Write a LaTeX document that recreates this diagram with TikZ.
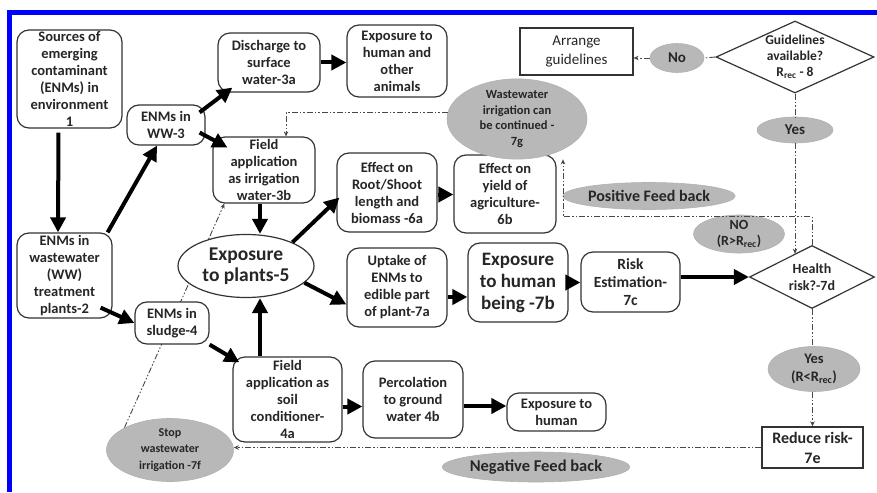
\documentclass[tikz,border=0pt]{standalone}
\usepackage{fontspec}
\setmainfont{Carlito}
\usetikzlibrary{arrows.meta,shapes.geometric,calc,backgrounds}

\tikzset{
  box/.style={draw=black!80, line width=1.2pt, rounded corners=12pt, fill=white,
    align=center, inner sep=0pt, text=black!85,
    font=\bfseries\fontsize{14.5}{17}\selectfont},
  sharpbox/.style={box, rounded corners=0pt},
  bubble/.style={ellipse, draw=black!30, line width=0.6pt, fill=black!28,
    align=center, inner sep=0pt, text=black!85,
    font=\bfseries\fontsize{12}{15}\selectfont},
  decision/.style={diamond, draw=black!80, line width=1.2pt, fill=white,
    align=center, inner sep=-10pt, text=black!85,
    font=\bfseries\fontsize{14}{17}\selectfont},
  flow/.style={line width=4pt, black, -{Triangle[length=15pt,width=15pt]}},
  fb/.style={draw=black!72, line width=0.9pt,
    dash pattern=on 6pt off 2pt on 1.5pt off 2pt on 1.5pt off 2pt},
  fbtip/.style={fb, -{Stealth[length=5pt,width=4.5pt]}},
}

\begin{document}
\begin{tikzpicture}[x=1pt,y=-1pt]
\useasboundingbox (0,0) rectangle (877,492);

% ---------- main flow ----------
\node[box, minimum width=105pt, minimum height=98pt] (src) at (69.5,79)
  {Sources of\\emerging\\contaminant\\(ENMs) in\\environment\\1};
\node[box, minimum width=95pt, minimum height=85pt] (wwtp) at (64.5,275.5)
  {ENMs in\\wastewater\\(WW)\\treatment\\plants-2};
\node[box, minimum width=78pt, minimum height=40pt] (ww3) at (166,125)
  {ENMs in\\WW-3};
\node[box, minimum width=102pt, minimum height=59pt] (d3a) at (269,62.5)
  {Discharge to\\surface\\water-3a};
\node[box, minimum width=100pt, minimum height=72pt] (eha) at (397,61)
  {Exposure to\\human and\\other\\animals};
\node[box, minimum width=102pt, minimum height=66pt] (f3b) at (264,170)
  {Field\\application\\as irrigation\\water-3b};
\node[box, ellipse, minimum width=136pt, minimum height=63pt,
  font=\bfseries\fontsize{19.5}{20.5}\selectfont] (e5) at (246,266)
  {Exposure\\to plants-5};
\node[box, minimum width=74pt, minimum height=42pt] (s4) at (172,323)
  {ENMs in\\sludge-4};
\node[box, minimum width=109pt, minimum height=85pt] (s4a) at (287.5,399.5)
  {Field\\application as\\soil\\conditioner-\\4a};
\node[box, minimum width=100pt, minimum height=77pt] (p4b) at (413,399.5)
  {Percolation\\to ground\\water 4b};
\node[box, minimum width=99pt, minimum height=38pt] (eh) at (556.5,412)
  {Exposure to\\human};
\node[box, minimum width=100pt, minimum height=79pt] (e6a) at (387,192.5)
  {Effect on\\Root/Shoot\\length and\\biomass -6a};
\node[box, minimum width=102pt, minimum height=78pt] (e6b) at (505,194)
  {Effect on\\yield of\\agriculture-\\6b};
\node[box, minimum width=100pt, minimum height=79pt] (u7a) at (397,287.5)
  {Uptake of\\ENMs to\\edible part\\of plant-7a};
\node[box, minimum width=100pt, minimum height=79pt,
  font=\bfseries\fontsize{19}{22}\selectfont] (e7b) at (518,282.5)
  {Exposure\\to human\\being -7b};
\node[box, minimum width=99pt, minimum height=60pt,
  font=\bfseries\fontsize{15.5}{18.3}\selectfont] (r7c) at (630.5,282)
  {Risk\\Estimation-\\7c};
\node[decision, minimum width=125pt, minimum height=63pt] (d7) at (812,277)
  {Health\\risk?-7d};
\node[sharpbox, line width=1.4pt, minimum width=101pt, minimum height=41pt,
  font=\bfseries\fontsize{16}{20}\selectfont] (e7) at (812.5,447.5)
  {Reduce risk-\\7e};

% ---------- guideline check ----------
\node[sharpbox, minimum width=113pt, minimum height=47pt,
  font=\fontsize{15}{18.5}\selectfont] (ag) at (576.5,51.5)
  {Arrange\\guidelines};
\node[decision, minimum width=158pt, minimum height=72pt,
  font=\bfseries\fontsize{13.5}{16}\selectfont] (g8) at (795,57)
  {Guidelines\\available?\\R\textsubscript{rec} - 8};
\node[bubble, minimum width=54pt, minimum height=29pt,
  font=\bfseries\fontsize{15}{16}\selectfont] (no) at (677,58) {No};
\node[bubble, minimum width=76pt, minimum height=26pt,
  font=\bfseries\fontsize{15}{16}\selectfont] (y1) at (795,130) {Yes};

% ---------- feedback labels and outcomes ----------
\node[bubble, minimum width=140pt, minimum height=62pt,
  font=\bfseries\fontsize{12.5}{15.5}\selectfont] (g7) at (517,119)
  {Wastewater\\irrigation can\\be continued -\\7g};
\node[bubble, minimum width=168pt, minimum height=27pt,
  font=\bfseries\fontsize{16}{18}\selectfont] (pos) at (649,196)
  {Positive Feed back};
\node[bubble, minimum width=91pt, minimum height=35pt,
  font=\bfseries\fontsize{14}{15.5}\selectfont] (no2) at (739,234)
  {NO\\(R>R\textsubscript{rec})};
\node[bubble, minimum width=92pt, minimum height=45pt,
  font=\bfseries\fontsize{14.5}{18}\selectfont] (yes2) at (814,369)
  {Yes\\(R<R\textsubscript{rec})};
\node[bubble, minimum width=127pt, minimum height=63pt,
  font=\bfseries\fontsize{12}{16.5}\selectfont] (f7) at (170,450)
  {Stop\\wastewater\\irrigation -7f};
\node[bubble, minimum width=168pt, minimum height=30pt,
  font=\bfseries\fontsize{16.5}{18}\selectfont] (neg) at (536,467)
  {Negative Feed back};

% ---------- page, frame and the line hidden behind the boxes ----------
\begin{pgfonlayer}{background}
  \fill[white] (0,0) rectangle (877,492);
  \draw[fbtip] (f7.154) -- ($(f3b.south west)+(12,0)$);
\end{pgfonlayer}
\fill[blue] (7,10) rectangle (877,15);
\fill[blue] (7,10) rectangle (12,492);

% ---------- thick flow arrows ----------
\draw[flow, shorten <=4pt] ([xshift=-11pt]src.south) -- ([xshift=-6.5pt]wwtp.north);
\draw[flow] ([xshift=-5pt]wwtp.north east) -- ([xshift=-9pt]ww3.south);
\draw[flow] ($(ww3.north east)+(-6,8)$) -- ($(d3a.south west)+(15,-5)$);
\draw[flow] ($(ww3.south east)+(-6,-13)$) -- ($(f3b.north west)+(15,11)$);
\draw[flow] (d3a.east) -- (d3a.east -| eha.west);
\draw[flow] ([xshift=-4pt]f3b.south) -- ([xshift=-4pt]f3b.south |- e5.north);
\draw[flow] ([xshift=-27.5pt]s4a.north) -- ([xshift=-27.5pt]s4a.north |- e5.south);
\draw[flow] (e5.27) -- ($(e6a.west)+(3,5)$);
\draw[flow] (e5.-16) -- ($(u7a.west)+(0,17)$);
\draw[flow] ([yshift=-2pt]e6a.east) -- ([yshift=-2pt]e6a.east -| e6b.west);
\draw[flow] ([yshift=-9.5pt]u7a.east) -- ([yshift=-9.5pt]u7a.east -| e7b.west);
\draw[flow] (e7b.east) -- (e7b.east -| r7c.west);
\draw[flow] (r7c.east |- d7.west) -- (d7.west);
\draw[flow] ($(wwtp.south east)+(-12,-11)$) -- (s4.west);
\draw[flow] (s4.south east) -- ($(s4a.north west)+(7,6)$);
\draw[flow] ([yshift=-7pt]s4a.east) -- ([yshift=-7pt]s4a.east -| p4b.west);
\draw[flow] ([yshift=-6.5pt]p4b.east) -- ([yshift=-6.5pt]p4b.east -| eh.west);

% ---------- dash-dot decision and feedback lines ----------
\draw[fb] (g8.west) -- (no.east);
\draw[fbtip] (no.west) -- (no.west -| ag.east);
\draw[fb] (g8.south) -- (y1.north);
\coordinate (hit) at ($(d7.north)!0.274!(d7.west)$);
\draw[fbtip] (y1.south) -- (y1.south |- hit);
\draw[fbtip] (d7.north) -- ++(0,-28) -| ([xshift=46pt]g7.south);
\draw[fbtip] (g7.175) -| ([xshift=22pt]f3b.north);
\draw[fb] (d7.south) -- (d7.south |- yes2.north);
\draw[fbtip] (yes2.south -| e7.north) -- (e7.north);
\draw[fbtip] (e7.west) -- (e7.west -| f7.east);
\end{tikzpicture}
\end{document}
